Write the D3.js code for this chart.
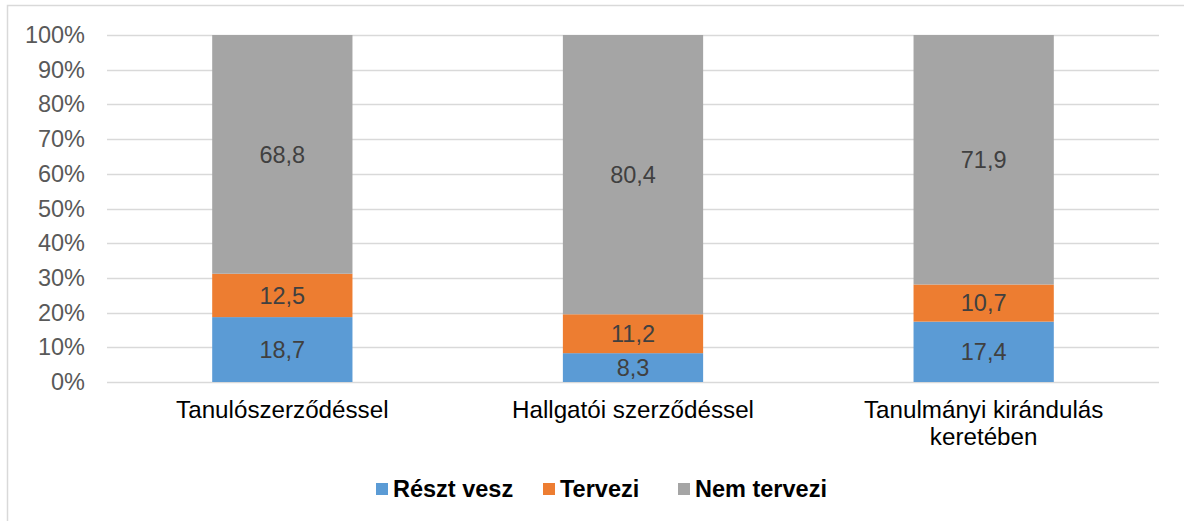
<!DOCTYPE html>
<html>
<head>
<meta charset="utf-8">
<script src="https://cdn.jsdelivr.net/npm/d3@7"></script>
<style>
  body { margin: 0; background: #fff; }
  svg { display: block; font-family: "Liberation Sans", Arial, sans-serif; }
</style>
</head>
<body>
<div id="chart"></div>
<script>
// data
var categories = ["Tanulószerződéssel", "Hallgatói szerződéssel", "Tanulmányi kirándulás keretében"];
var seriesNames = ["Részt vesz", "Tervezi", "Nem tervezi"];
var reszt = [18.7, 8.3, 17.4];
var tervezi = [12.5, 11.2, 10.7];
var nemTervezi = [68.8, 80.4, 71.9];
var yTicks = [0, 10, 20, 30, 40, 50, 60, 70, 80, 90, 100];
var colors = ["#5b9bd5", "#ed7d31", "#a5a5a5"];

var width = 1184, height = 521;
var margin = {top: 35, left: 107, right: 25, bottom: 139};
var fs = 23.5;

var svg = d3.select("#chart").append("svg")
    .attr("width", width)
    .attr("height", height);

// outer frame (cut off at right and bottom like the original)
svg.append("rect")
    .attr("x", 7.5).attr("y", 5.5)
    .attr("width", 1300).attr("height", 700)
    .attr("fill", "none")
    .attr("stroke", "#d9d9d9")
    .attr("stroke-width", 1.5);

var rows = categories.map((c, i) => {
    var total = reszt[i] + tervezi[i] + nemTervezi[i];
    return {cat: c, "Részt vesz": reszt[i], "Tervezi": tervezi[i], "Nem tervezi": nemTervezi[i], total: total};
});

var stack = d3.stack().keys(seriesNames)
    .value((d, k) => d[k] / d.total * 100);
var layers = stack(rows);

var x = d3.scaleBand()
    .domain(categories)
    .range([margin.left, width - margin.right])
    .paddingInner(0.6)
    .paddingOuter(0.3);

var y = d3.scaleLinear()
    .domain([0, 100])
    .range([height - margin.bottom, margin.top]);

// gridlines
svg.append("g")
    .selectAll("line")
    .data(yTicks)
    .join("line")
    .attr("x1", margin.left)
    .attr("x2", width - margin.right)
    .attr("y1", d => Math.round(y(d)) + 0.5)
    .attr("y2", d => Math.round(y(d)) + 0.5)
    .attr("stroke", "#d9d9d9")
    .attr("stroke-width", 1.5);

// y axis labels
var yAxis = d3.axisLeft(y).tickValues(yTicks).tickFormat(d => d + "%").tickSize(0).tickPadding(0);
var gy = svg.append("g")
    .attr("transform", "translate(" + (margin.left - 22) + ",0)")
    .call(yAxis);
gy.select(".domain").remove();
gy.attr("font-size", fs).attr("font-family", "Liberation Sans, Arial, sans-serif");
gy.selectAll("text")
    .attr("fill", "#595959");

// bars
var groups = svg.append("g")
    .selectAll("g")
    .data(layers)
    .join("g")
    .attr("fill", (d, i) => colors[i]);

groups.selectAll("rect")
    .data(d => d)
    .join("rect")
    .attr("x", d => x(d.data.cat))
    .attr("width", x.bandwidth())
    .attr("y", d => y(d[1]))
    .attr("height", d => y(d[0]) - y(d[1]));

// data labels
layers.forEach(function(layer) {
    svg.append("g")
        .selectAll("text")
        .data(layer)
        .join("text")
        .attr("x", d => x(d.data.cat) + x.bandwidth() / 2)
        .attr("y", d => (y(d[0]) + y(d[1])) / 2)
        .attr("dy", "0.35em")
        .attr("text-anchor", "middle")
        .attr("font-size", fs)
        .attr("fill", "#404040")
        .text(d => String(d.data[layer.key]).replace(".", ","));
});

// category labels
var wrapped = {
    "Tanulmányi kirándulás keretében": ["Tanulmányi kirándulás", "keretében"]
};
categories.forEach(function(c) {
    var lines = wrapped[c] || [c];
    var t = svg.append("text")
        .attr("x", x(c) + x.bandwidth() / 2)
        .attr("y", 418)
        .attr("text-anchor", "middle")
        .attr("font-size", 24.2)
        .attr("fill", "#000");
    lines.forEach(function(l, i) {
        t.append("tspan")
            .attr("x", x(c) + x.bandwidth() / 2)
            .attr("dy", i === 0 ? 0 : 27)
            .text(l);
    });
});

// legend
var legendX = [376, 543, 678];
var legend = svg.append("g")
    .selectAll("g")
    .data(seriesNames)
    .join("g")
    .attr("transform", (d, i) => "translate(" + legendX[i] + ",483)");

legend.append("rect")
    .attr("width", 12).attr("height", 12)
    .attr("fill", (d, i) => colors[i]);

legend.append("text")
    .attr("x", 17)
    .attr("y", 14)
    .attr("font-size", fs)
    .attr("font-weight", "bold")
    .attr("fill", "#000")
    .text(d => d);
</script>
</body>
</html>
